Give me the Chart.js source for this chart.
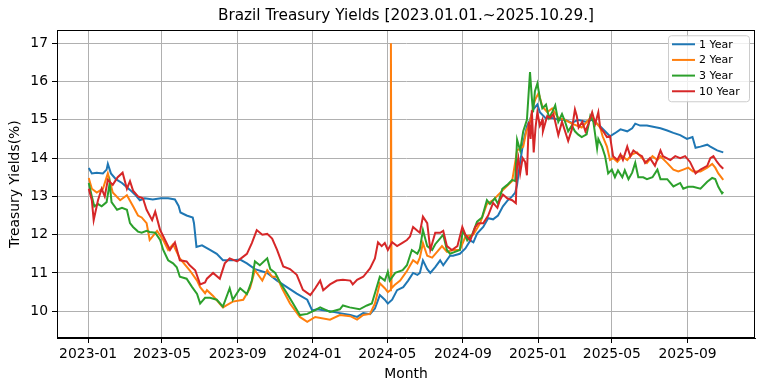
<!DOCTYPE html>
<html>
<head>
<meta charset="utf-8">
<script src="https://cdn.jsdelivr.net/npm/chart.js@4.4.1/dist/chart.umd.min.js"></script>
<style>
  html, body { margin: 0; padding: 0; background: #fff; }
  #wrap { width: 764px; height: 391px; }
</style>
</head>
<body>
<div id="wrap"><canvas id="ch-yields" width="764" height="391"></canvas></div>
<script>
// x values are days counted from 2023-01-01
const monthTickDays = [0, 120, 243, 365, 486, 609, 731, 851, 974];
const monthTickLabels = ["2023-01", "2023-05", "2023-09", "2024-01", "2024-05", "2024-09", "2025-01", "2025-05", "2025-09"];
const yieldTicks = [10, 11, 12, 13, 14, 15, 16, 17];
const seriesNames = ["1 Year", "2 Year", "3 Year", "10 Year"];

// [day, yield %]
const oneYear = [
  [1,13.74],[6,13.6],[14,13.62],[24,13.6],[30,13.7],[32,13.85],[37,13.6],[45,13.45],[55,13.35],[68,13.17],
  [76,13.05],[84,12.9],[92,12.95],[105,12.92],[118,12.95],[130,12.95],[141,12.92],[147,12.75],[150,12.58],[160,12.5],
  [170,12.45],[172,12.3],[176,11.68],[185,11.72],[198,11.6],[209,11.5],[219,11.33],[235,11.33],[247,11.35],[258,11.25],
  [271,11.1],[291,11.0],[307,10.8],[323,10.63],[339,10.46],[356,10.3],[364,10.02],[372,10.05],[393,10.0],[409,9.95],
  [426,9.9],[437,9.85],[447,9.95],[458,9.92],[466,10.07],[474,10.42],[482,10.3],[487,10.2],[494,10.3],[502,10.55],
  [512,10.63],[520,10.8],[528,11.0],[535,10.95],[539,11.0],[544,11.33],[551,11.1],[556,11.0],[564,11.15],[572,11.33],
  [577,11.2],[588,11.45],[593,11.45],[604,11.5],[613,11.64],[621,11.85],[626,11.8],[632,12.03],[642,12.2],[650,12.43],
  [658,12.4],[666,12.5],[674,12.74],[682,12.9],[689,13.0],[694,13.1],[697,13.3],[702,13.9],[707,14.4],[713,14.83],
  [718,15.0],[723,15.27],[730,15.4],[734,15.2],[743,15.05],[754,15.05],[764,15.0],[775,15.0],[786,14.92],[796,15.0],
  [808,14.95],[819,15.0],[832,14.83],[840,14.7],[848,14.57],[856,14.65],[865,14.75],[876,14.7],[884,14.78],[889,14.9],
  [897,14.85],[908,14.85],[918,14.82],[930,14.78],[941,14.72],[951,14.66],[962,14.6],[973,14.5],[982,14.55],[987,14.27],
  [995,14.3],[1006,14.35],[1011,14.3],[1022,14.2],[1032,14.15]
];

const twoYear = [
  [1,13.48],[6,13.2],[14,13.1],[24,13.2],[32,13.6],[40,13.1],[52,12.9],[63,13.03],[73,12.74],[81,12.5],
  [87,12.45],[95,12.3],[100,11.86],[112,12.1],[122,11.86],[130,11.6],[138,11.75],[149,11.38],[165,11.07],[177,10.8],
  [182,10.63],[190,10.47],[193,10.55],[203,10.4],[219,10.1],[235,10.25],[252,10.3],[263,10.6],[271,11.07],[283,10.8],
  [291,11.07],[299,10.9],[307,10.9],[315,10.6],[328,10.2],[344,9.85],[356,9.72],[369,9.85],[393,9.78],[409,9.9],
  [426,9.87],[437,9.78],[447,9.9],[458,9.93],[466,10.2],[474,10.73],[482,10.6],[487,10.5],[491,10.55],[492,17.0],
  [493,10.6],[499,10.7],[507,10.8],[518,11.05],[528,11.33],[535,11.25],[539,11.4],[544,11.78],[551,11.45],[559,11.4],
  [567,11.55],[575,11.7],[583,11.55],[593,11.6],[604,11.6],[613,11.95],[626,12.0],[637,12.3],[648,12.8],[658,12.9],
  [673,13.15],[689,13.4],[697,14.2],[707,14.3],[712,14.7],[718,14.95],[724,15.4],[727,15.55],[732,15.7],[738,15.35],
  [746,15.2],[754,15.3],[764,15.05],[775,15.0],[786,14.9],[802,14.8],[819,15.1],[824,14.95],[832,14.8],[836,14.57],
  [843,14.3],[848,13.95],[853,14.0],[860,13.9],[868,14.05],[876,13.95],[884,14.1],[892,14.15],[900,14.0],[908,13.87],
  [917,14.05],[925,13.95],[930,14.05],[941,13.87],[951,13.7],[959,13.65],[967,13.7],[975,13.75],[983,13.65],[995,13.65],
  [1006,13.75],[1014,13.85],[1019,13.75],[1024,13.6],[1032,13.43]
];

const threeYear = [
  [1,13.35],[6,13.0],[10,12.74],[16,12.8],[22,12.74],[30,12.85],[35,13.35],[38,12.85],[47,12.65],[55,12.7],
  [63,12.65],[68,12.3],[73,12.2],[81,12.08],[87,12.05],[95,12.1],[100,12.07],[109,12.05],[117,11.86],[122,11.6],
  [130,11.33],[138,11.25],[144,11.15],[149,10.9],[160,10.85],[169,10.63],[177,10.45],[182,10.2],[190,10.35],[198,10.35],
  [209,10.3],[219,10.12],[230,10.6],[235,10.3],[247,10.6],[258,10.45],[266,10.8],[271,11.3],[279,11.2],[291,11.38],
  [296,11.1],[304,11.0],[312,10.75],[323,10.47],[333,10.2],[344,9.9],[356,9.93],[369,10.03],[377,10.1],[393,9.98],
  [409,10.05],[414,10.15],[425,10.1],[441,10.05],[453,10.15],[461,10.2],[466,10.47],[474,10.9],[482,10.8],[487,11.03],
  [490,10.8],[499,11.0],[511,11.07],[518,11.2],[526,11.6],[535,11.5],[539,11.63],[544,12.12],[551,11.7],[559,11.6],
  [564,11.75],[572,11.9],[577,12.0],[583,11.6],[588,11.5],[596,11.55],[604,11.6],[609,12.12],[616,11.85],[624,12.0],
  [632,12.34],[640,12.45],[648,12.9],[653,12.8],[661,12.95],[666,12.8],[673,13.2],[681,13.3],[689,13.43],[694,13.4],
  [697,14.48],[702,14.2],[707,14.7],[713,15.0],[718,16.25],[721,15.57],[723,15.2],[726,15.75],[730,15.95],[734,15.57],
  [738,15.3],[744,15.4],[749,15.05],[754,15.2],[759,15.38],[764,14.95],[770,15.15],[775,14.95],[780,14.7],[786,14.85],
  [791,14.7],[796,14.62],[802,14.55],[810,14.62],[816,15.1],[821,14.95],[827,14.25],[829,14.5],[835,14.3],[840,14.05],
  [845,13.6],[851,13.7],[856,13.5],[861,13.68],[868,13.5],[872,13.68],[878,13.45],[884,13.62],[889,13.88],[894,13.5],
  [902,13.5],[908,13.45],[917,13.5],[925,13.7],[930,13.45],[941,13.45],[951,13.26],[962,13.35],[967,13.2],[975,13.25],
  [983,13.25],[995,13.2],[1006,13.38],[1014,13.48],[1019,13.45],[1024,13.25],[1030,13.08],[1032,13.12]
];

const tenYear = [
  [1,13.2],[6,12.9],[9,12.38],[16,12.9],[22,13.2],[27,13.0],[32,13.43],[40,13.3],[48,13.5],[56,13.62],
  [63,13.2],[68,13.4],[73,13.15],[81,13.0],[89,12.95],[95,12.65],[104,12.38],[109,12.6],[117,12.12],[125,11.86],
  [133,11.6],[141,11.8],[149,11.33],[160,11.3],[165,11.2],[174,11.07],[182,10.7],[190,10.75],[193,10.85],[203,11.0],
  [214,10.85],[222,11.25],[230,11.38],[242,11.3],[250,11.4],[258,11.5],[266,11.78],[274,12.12],[283,12.0],[291,12.02],
  [299,11.9],[307,11.6],[317,11.17],[328,11.1],[339,10.95],[349,10.56],[361,10.42],[369,10.6],[377,10.8],[382,10.55],
  [393,10.7],[404,10.8],[414,10.82],[426,10.8],[430,10.7],[437,10.82],[447,10.9],[458,11.12],[466,11.38],[471,11.8],
  [477,11.7],[482,11.78],[487,11.6],[494,11.8],[502,11.7],[510,11.78],[518,11.86],[523,11.95],[528,12.2],[535,12.1],
  [539,12.05],[544,12.47],[551,12.3],[556,11.6],[564,12.05],[572,12.05],[577,12.1],[583,11.7],[591,11.6],[600,11.7],
  [608,12.2],[613,12.0],[621,11.85],[629,12.2],[634,12.3],[642,12.3],[650,12.5],[658,12.83],[665,12.7],[669,12.9],
  [674,13.05],[681,12.95],[689,12.9],[695,12.82],[697,13.82],[699,14.0],[702,13.6],[706,14.0],[710,13.9],[713,13.55],
  [716,14.95],[719,14.5],[721,15.25],[724,14.15],[727,14.8],[730,15.2],[734,14.85],[738,15.0],[739,14.7],[746,15.1],
  [751,15.05],[756,15.15],[759,14.95],[764,14.6],[770,14.95],[775,14.7],[780,14.45],[786,14.75],[791,15.27],[794,15.1],
  [797,14.8],[803,14.95],[808,14.7],[813,14.9],[819,15.2],[824,14.9],[829,15.2],[832,14.8],[837,14.7],[843,14.55],
  [848,14.57],[853,14.05],[860,13.95],[865,14.1],[869,13.95],[876,14.3],[881,14.05],[886,14.2],[894,14.1],[900,14.05],
  [905,13.87],[913,14.0],[921,13.8],[930,14.2],[934,14.05],[946,13.95],[954,14.05],[962,14.0],[970,14.05],[978,13.9],
  [987,13.6],[995,13.7],[1006,13.8],[1011,14.0],[1016,14.05],[1022,13.9],[1027,13.8],[1032,13.72]
];

const COLORS = ["#1f77b4", "#ff7f0e", "#2ca02c", "#d62728"];
const FONT = "'DejaVu Sans', sans-serif";

const toPoints = (rows) => rows.map(([d, v]) => ({ x: d, y: v }));

// matplotlib-style box: top and right spines
const framePlugin = {
  id: "frame",
  afterDatasetsDraw(chart) {
    const { ctx, chartArea: a } = chart;
    ctx.save();
    ctx.strokeStyle = "#000";
    ctx.lineWidth = 1;
    ctx.strokeRect(Math.round(a.left) + 0.5, Math.round(a.top) + 0.5,
                   Math.round(a.right - a.left) - 1, Math.round(a.bottom - a.top) - 1);
    ctx.restore();
  }
};

// legend box in the upper right corner of the plot
const insideLegend = {
  id: "insideLegend",
  afterDraw(chart) {
    const { ctx, chartArea: a } = chart;
    const w = 81, h = 66;
    const x0 = a.right - 6 - w, y0 = a.top + 5;
    ctx.save();
    ctx.beginPath();
    ctx.roundRect(x0 + 0.5, y0 + 0.5, w, h, 3);
    ctx.fillStyle = "rgba(255,255,255,0.8)";
    ctx.fill();
    ctx.strokeStyle = "#cccccc";
    ctx.lineWidth = 1;
    ctx.stroke();
    ctx.font = "11px " + FONT;
    ctx.textBaseline = "middle";
    ctx.textAlign = "left";
    chart.data.datasets.forEach((ds, i) => {
      const y = y0 + 9 + i * 15.67;
      ctx.strokeStyle = ds.borderColor;
      ctx.lineWidth = 2;
      ctx.beginPath();
      ctx.moveTo(x0 + 4, y);
      ctx.lineTo(x0 + 27, y);
      ctx.stroke();
      ctx.fillStyle = "#000";
      ctx.fillText(ds.label, x0 + 31, y + 0.5);
    });
    ctx.restore();
  }
};

const axisCommon = {
  type: "linear",
  grid: { color: "#b0b0b0", lineWidth: 1, tickColor: "#000", tickLength: 5, drawTicks: true },
  border: { color: "#000", width: 1 },
};

new Chart(document.getElementById("ch-yields"), {
  type: "line",
  data: {
    datasets: [oneYear, twoYear, threeYear, tenYear].map((rows, i) => ({
      label: seriesNames[i],
      data: toPoints(rows),
      borderColor: COLORS[i],
      backgroundColor: COLORS[i],
      borderWidth: 2,
      pointRadius: 0,
      tension: 0,
      order: 3 - i
    }))
  },
  options: {
    responsive: false,
    animation: false,
    layout: { padding: { left: 0, right: 9, top: 0, bottom: 0 } },
    plugins: {
      legend: { display: false },
      tooltip: { enabled: false },
      title: {
        display: true,
        fullSize: false,
        text: "Brazil Treasury Yields [2023.01.01.~2025.10.29.]",
        color: "#000",
        font: { family: FONT, size: 15.3, weight: "normal" },
        padding: { top: 6.8, bottom: 5.1 }
      }
    },
    scales: {
      x: {
        ...axisCommon,
        min: -50.6,
        max: 1083.6,
        afterBuildTicks: (s) => { s.ticks = monthTickDays.map((v) => ({ value: v })); },
        afterFit: (s) => { s.height = 53; },
        ticks: {
          autoSkip: false, maxRotation: 0, padding: 3, color: "#000",
          font: { family: FONT, size: 13.9 },
          callback: (v) => monthTickLabels[monthTickDays.indexOf(v)]
        },
        title: { display: true, text: "Month", color: "#000", font: { family: FONT, size: 13.9 }, padding: { top: 0, bottom: 8 } }
      },
      y: {
        ...axisCommon,
        min: 9.30,
        max: 17.34,
        afterBuildTicks: (s) => { s.ticks = yieldTicks.map((v) => ({ value: v })); },
        afterFit: (s) => { s.width = 57; },
        ticks: { padding: 4, color: "#000", font: { family: FONT, size: 13.9 } },
        title: { display: true, text: "Treasury Yields(%)", color: "#000", font: { family: FONT, size: 13.9 }, padding: { top: 7, bottom: 0 } }
      }
    }
  },
  plugins: [framePlugin, insideLegend]
});
</script>
</body>
</html>
